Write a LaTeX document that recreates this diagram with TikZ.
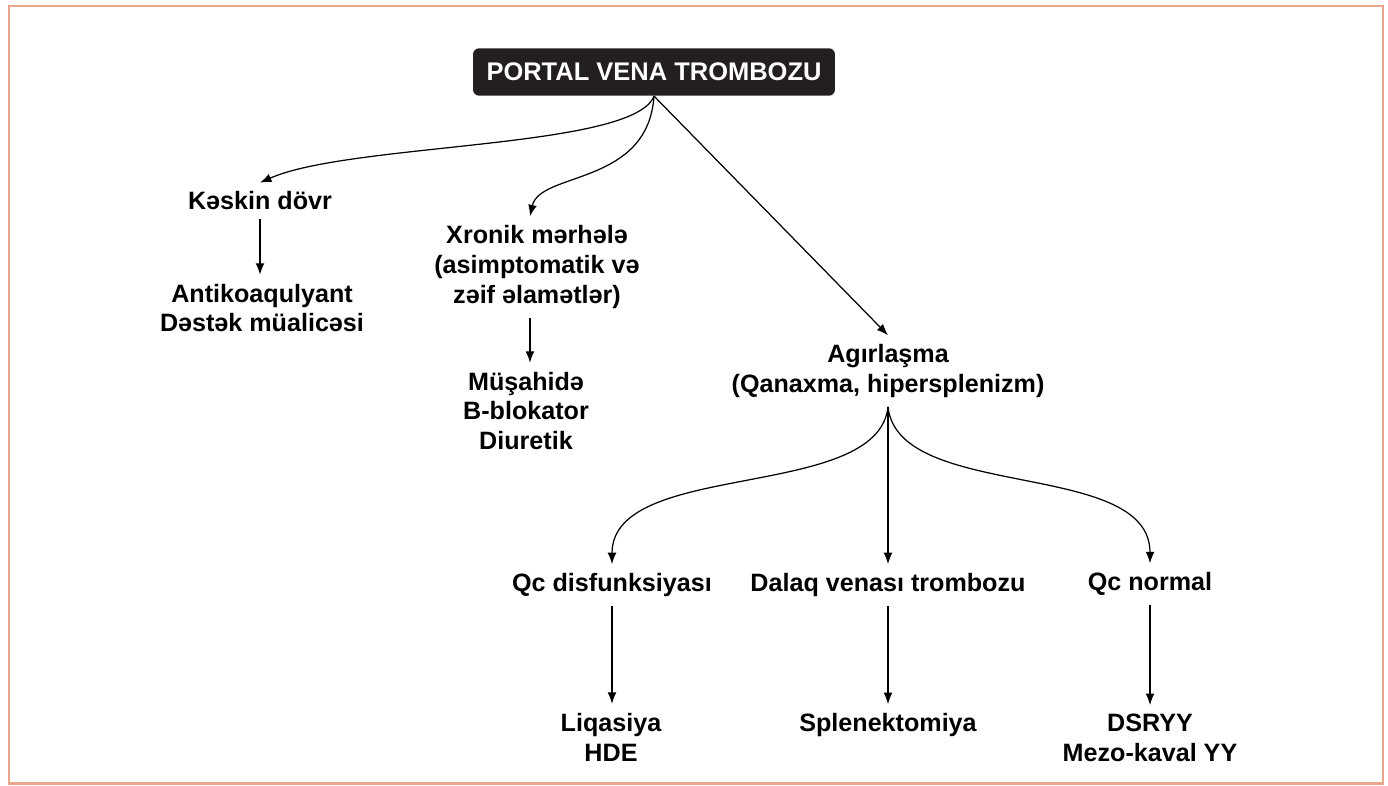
\documentclass[tikz,border=0pt]{standalone}
\usepackage{fontspec}
\setmainfont{Liberation Sans}
\usetikzlibrary{arrows.meta}
\definecolor{framecol}{RGB}{232,166,143}
\definecolor{boxblack}{RGB}{35,31,32}
\tikzset{
  lbl/.style={font=\bfseries\fontsize{14.3}{17}\selectfont, align=center, inner sep=5pt},
  head/.style={fill=boxblack, text=white, rounded corners=3.5pt, font=\bfseries\fontsize{14.5}{17}\selectfont, minimum width=206pt, minimum height=27pt, inner sep=0pt},
  arr/.style={line width=0.7pt, -{Latex[length=6.5pt,width=5pt]}}
}
\begin{document}
\begin{tikzpicture}[x=0.02cm, y=-0.02cm]
\useasboundingbox (0,0) rectangle (1388,785);
\draw[framecol, line width=1.2pt] (9,6) rectangle (1383,783.5);
\node[head] (pvt) at (654,72) {PORTAL VENA TROMBOZU};
\node[lbl] (kes) at (260,201) {Kəskin dövr};
\node[lbl] (anti) at (262,308) {Antikoaqulyant\\Dəstək müalicəsi};
\node[lbl] (xron) at (537,267) {Xronik mərhələ\\(asimptomatik və\\zəif əlamətlər)};
\node[lbl] (mus) at (526,411) {Müşahidə\\B-blokator\\Diuretik};
\node[lbl] (agir) at (888,371) {Agırlaşma\\(Qanaxma, hipersplenizm)};
\node[lbl] (qcd) at (612,585) {Qc disfunksiyası};
\node[lbl] (dal) at (888,585) {Dalaq venası trombozu};
\node[lbl] (qcn) at (1150,584) {Qc normal};
\node[lbl] (liq) at (611,737) {Liqasiya\\HDE};
\node[lbl] (spl) at (888,725) {Splenektomiya};
\node[lbl] (dsr) at (1150,738) {DSRYY\\Mezo-kaval YY};
\draw[arr] (pvt.south) .. controls +(-20,53) and +(90,-40) .. (kes.north);
\draw[arr] (pvt.south) .. controls +(-6,90) and +(10,-45) .. ([xshift=-4]xron.north);
\draw[arr] (pvt.south) -- (agir.north);
\draw[arr] (kes.south) -- (kes.south |- anti.north);
\draw[arr] ([xshift=-4]xron.south) -- ([xshift=-4]xron.south |- mus.north);
\draw[arr] (agir.south) .. controls +(-10,95) and +(0,-105) .. (qcd.north);
\draw[arr] (agir.south) -- (dal.north);
\draw[arr] (agir.south) .. controls +(10,95) and +(0,-105) .. (qcn.north);
\draw[arr] (qcd.south) -- (qcd.south |- liq.north);
\draw[arr] (dal) -- (spl);
\draw[arr] (qcn) -- (dsr);
\end{tikzpicture}
\end{document}
